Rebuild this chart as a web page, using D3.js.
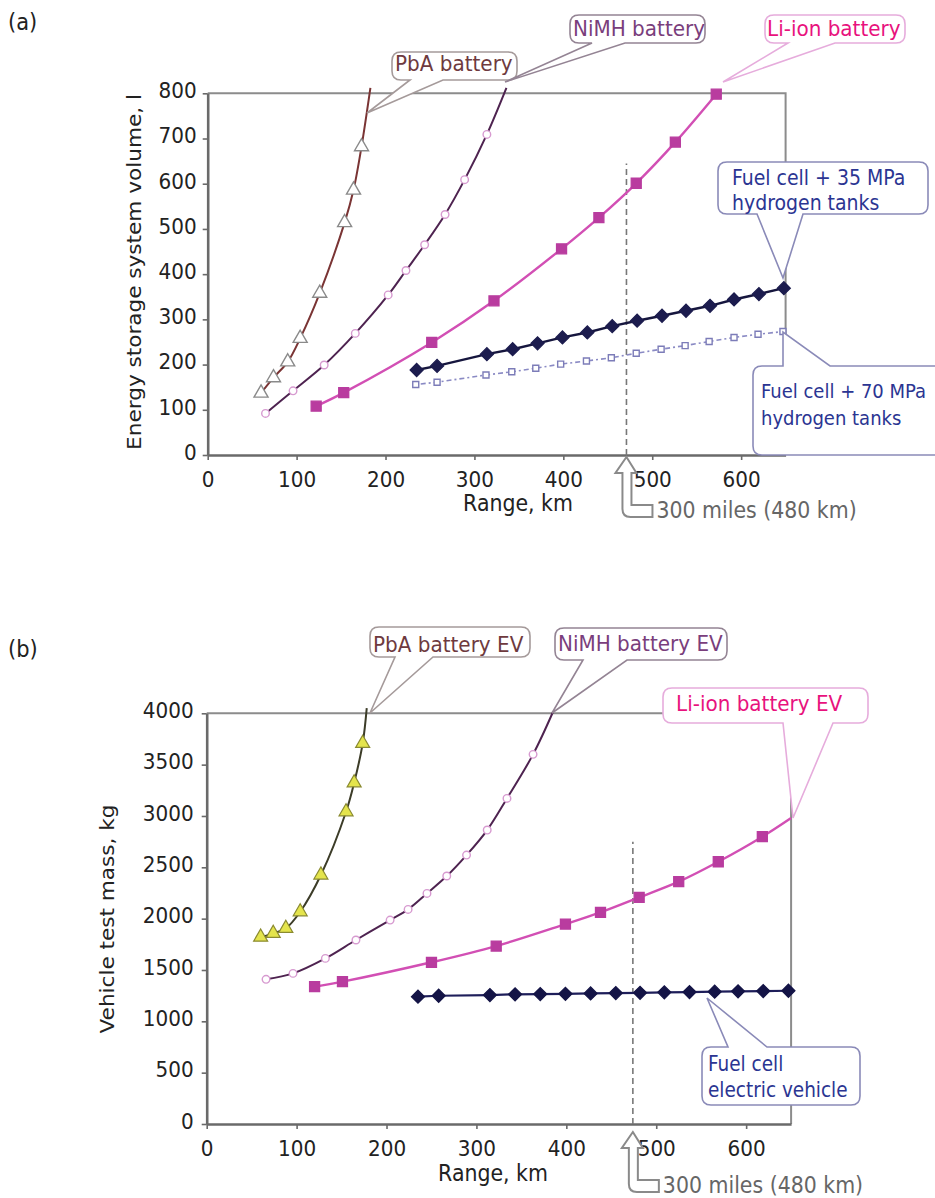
<!DOCTYPE html>
<html><head><meta charset="utf-8">
<script src="https://cdn.jsdelivr.net/npm/d3@7"></script>
<style>body{margin:0;background:#fff}svg{display:block}</style>
</head><body><svg id="c" width="935" height="1198"></svg>
<script>
// ================= DATA =================
// Panel (a): energy storage system volume (l) vs range (km)
const rangeTicks = [0,100,200,300,400,500,600];
const volumeTicks = [0,100,200,300,400,500,600,700,800];
const pbaVol = [[60,137],[74,171],[90,206],[104,258],[126,358],[154,514],[164,586],[173,682]];
const pbaVolEnd = [183,812];
const nimhVol = [[65,92],[96,142],[131,199],[166,269],[203,354],[223,408],[244,465],[267,532],[289,609],[314,709]];
const nimhVolEnd = [336,812];
const liionVol = [[122,108],[153,138],[252,249],[322,341],[398,456],[440,525],[482,601],[526,692],[572,798]];
const fc35Range = [235,258,314,343,371,399,427,455,483,511,538,565,592,620,648];
const fc35Vol   = [188,197,223,234,247,260,271,285,297,308,319,330,344,356,369];
const fc70Range = [234,258,313,342,369,397,426,454,482,510,537,564,592,619,647];
const fc70Vol   = [156,161,177,184,192,201,208,215,225,234,242,251,260,267,273];
// Panel (b): vehicle test mass (kg) vs range (km)
const massTicks = [0,500,1000,1500,2000,2500,3000,3500,4000];
const pbaMass = [[60,1820],[74,1857],[88,1905],[104,2067],[127,2425],[155,3041],[164,3323],[173.5,3707]];
const pbaMassEnd = [178,4050];
const nimhMass = [[66,1409],[96,1467],[132,1613],[166,1792],[204,1986],[224,2090],[245,2246],[267,2415],[289,2619],[312,2863],[334,3171],[363,3600]];
const nimhMassEnd = [385,4010];
const liionMass = [[120,1337],[151,1386],[250,1575],[322,1733],[399,1947],[438,2061],[481,2207],[525,2360],[569,2554],[618,2798]];
const liionMassEnd = [650,2980];
const fcevRange = [235,258,315,343,371,399,427,455,482,509,537,565,591,619,647];
const fcevMass  = [1240,1249,1256,1263,1265,1268,1272,1275,1278,1282,1285,1289,1292,1295,1298];
// 300-mile reference line (km position as drawn, top value)
const refLineA = [471, 645];
const refLineB = [474, 2750];
const refLabel = "300 miles (480 km)";

// ================= HELPERS =================
const svg = d3.select("#c");
const SY = 1.08;
const FONT = "'DejaVu Sans', Verdana, sans-serif";
const FONT2 = "'DejaVu Sans Condensed', 'DejaVu Sans', sans-serif";

function text(g, x, y, str, o = {}) {
  const sy = o.sy || SY;
  return g.append("text")
    .attr("transform", `translate(${x},${y}) scale(1,${sy})`)
    .attr("font-family", o.font || FONT)
    .attr("font-size", o.size || 20)
    .attr("fill", o.color || "#222")
    .attr("text-anchor", o.anchor || "start")
    .text(str);
}
function vtext(g, x, y, str, o = {}) {
  return g.append("text")
    .attr("transform", `translate(${x},${y}) rotate(-90) scale(${SY},1)`)
    .attr("font-family", o.font || FONT)
    .attr("font-size", o.size || 20)
    .attr("fill", o.color || "#222")
    .attr("text-anchor", "middle")
    .text(str);
}
function calloutPath(c) {
  const {x, y, w, h, side, a1, a2, tip} = c, r = 9;
  let p = `M${x+r},${y}`;
  if (side === "top") p += `L${a1},${y}L${tip[0]},${tip[1]}L${a2},${y}`;
  p += `L${x+w-r},${y}Q${x+w},${y} ${x+w},${y+r}L${x+w},${y+h-r}Q${x+w},${y+h} ${x+w-r},${y+h}`;
  if (side === "bottom") p += `L${a2},${y+h}L${tip[0]},${tip[1]}L${a1},${y+h}`;
  p += `L${x+r},${y+h}Q${x},${y+h} ${x},${y+h-r}L${x},${y+r}Q${x},${y} ${x+r},${y}Z`;
  return p;
}
function callout(g, c) {
  g.append("path").attr("d", calloutPath(c))
    .attr("fill", "#fff").attr("stroke", c.stroke).attr("stroke-width", 1.6);
  c.lines.forEach((s, i) => text(g, c.tx, c.ty + i * (c.lh || 26), s,
    {color: c.color, font: c.font, size: c.size, sy: c.lines.length > 1 ? 1 : SY}));
}
function refArrow(g, tx, ty, label) {
  const p = `M${tx},${ty}L${tx+10},${ty+16}L${tx+5},${ty+16}L${tx+5},${ty+48}L${tx+26},${ty+48}` +
            `L${tx+26},${ty+60}L${tx+4},${ty+60}Q${tx-4},${ty+60} ${tx-4},${ty+52}L${tx-4},${ty+16}L${tx-11},${ty+16}Z`;
  g.append("path").attr("d", p).attr("fill", "#fff").attr("stroke", "#8a8a8a").attr("stroke-width", 2);
  text(g, tx + 30, ty + 61, label, {color: "#666", size: 20.5});
}
const tri = d3.symbol().type(d3.symbolTriangle);
const sq = d3.symbol().type(d3.symbolSquare);
const circ = d3.symbol().type(d3.symbolCircle);

function panel(cfg) {
  const g = svg.append("g");
  const x = d3.scaleLinear().domain([0, 650]).range(cfg.xr);
  const y = d3.scaleLinear().domain([0, cfg.ymax]).range(cfg.yr);

  // frame (top + right)
  g.append("path")
    .attr("d", `M${x(0)},${y(cfg.ymax)}L${x(650)},${y(cfg.ymax)}L${x(650)},${y(0)}`)
    .attr("fill", "none").attr("stroke", "#8c8c8c").attr("stroke-width", 2);

  // axes
  const ax = g.append("g").attr("transform", `translate(0,${y(0)})`)
    .call(d3.axisBottom(x).tickValues(rangeTicks).tickFormat(d3.format("d"))
      .tickSize(5).tickSizeOuter(0).tickPadding(10));
  const ay = g.append("g").attr("transform", `translate(${x(0)},0)`)
    .call(d3.axisLeft(y).tickValues(cfg.yticks).tickFormat(d3.format("d"))
      .tickSize(5).tickSizeOuter(0).tickPadding(cfg.ypad));
  [ax, ay].forEach(a => {
    a.select(".domain").attr("stroke", "#6a6a6a").attr("stroke-width", 2.6);
    a.selectAll(".tick line").attr("stroke", "#6a6a6a").attr("stroke-width", 1.6);
    a.selectAll("text").attr("font-family", FONT).attr("font-size", 20).attr("fill", "#222")
      .attr("transform", `scale(1,${SY})`);
  });
  ay.selectAll("text").attr("dy", "0.2em");

  // axis titles
  text(g, cfg.xtitle[0], cfg.xtitle[1], "Range, km", {anchor: "middle", size: 20.5});
  vtext(g, cfg.ytitle[0], cfg.ytitle[1], cfg.ylabel, {size: 20});
  text(g, 8, cfg.tag[1], cfg.tag[0], {size: 21});

  // 300 mile dashed reference
  g.append("line")
    .attr("x1", x(cfg.ref[0])).attr("x2", x(cfg.ref[0]))
    .attr("y1", y(0)).attr("y2", y(cfg.ref[1]))
    .attr("stroke", "#777").attr("stroke-width", 1.6).attr("stroke-dasharray", "6,4");

  const lineGen = (curve) => d3.line().x(d => x(d[0])).y(d => y(d[1])).curve(curve);
  const smooth = d3.curveCatmullRom.alpha(0.5);

  cfg.series.forEach(s => {
    const pts = s.end ? s.data.concat([s.end]) : s.data;
    g.append("path").attr("d", lineGen(s.smooth ? smooth : d3.curveLinear)(pts))
      .attr("fill", "none").attr("stroke", s.line).attr("stroke-width", s.lw || 2)
      .attr("stroke-dasharray", s.dash || null);
    g.selectAll(null).data(s.data).enter().append("path")
      .attr("transform", d => `translate(${x(d[0])},${y(d[1])})` + (s.rot ? " rotate(45)" : ""))
      .attr("d", s.sym)
      .attr("fill", s.fill).attr("stroke", s.mstroke).attr("stroke-width", s.msw || 1.3);
  });

  // reference arrow
  refArrow(g, x(cfg.ref[0]), y(0) + cfg.arrowOff, refLabel);

  cfg.callouts.forEach(c => callout(g, c));
}

// ================= PANEL (a) =================
panel({
  xr: [207.7, 785.6], yr: [455, 93.3], ymax: 800, yticks: volumeTicks, ypad: 6,
  xtitle: [518, 511], ytitle: [141, 272], ylabel: "Energy storage system volume, l",
  tag: ["(a)", 30], ref: refLineA, arrowOff: 2,
  series: [
    {data: pbaVol, end: pbaVolEnd, smooth: true, line: "#7a3434", lw: 2,
     sym: tri.size(85)(), fill: "#fff", mstroke: "#8a8a8a", msw: 1.4},
    {data: nimhVol, end: nimhVolEnd, smooth: true, line: "#4e2350", lw: 2,
     sym: circ.size(45)(), fill: "#fff", mstroke: "#d79ad0", msw: 1.4},
    {data: liionVol, smooth: true, line: "#d24fb4", lw: 2.4,
     sym: sq.size(100)(), fill: "#b93c9f", mstroke: "#b93c9f"},
    {data: fc70Range.map((r, i) => [r, fc70Vol[i]]), line: "#8a8ac4", lw: 1.6, dash: "2,3,5,3",
     sym: sq.size(36)(), fill: "#fff", mstroke: "#7c7cb8", msw: 1.4},
    {data: fc35Range.map((r, i) => [r, fc35Vol[i]]), line: "#16163e", lw: 2.4, rot: true,
     sym: sq.size(84)(), fill: "#1c1c4e", mstroke: "#1c1c4e"}
  ],
  callouts: [
    {x: 392, y: 52, w: 125, h: 28, side: "bottom", a1: 410, a2: 443, tip: [367, 113],
     stroke: "#a59a9a", color: "#6e3a3e", lines: ["PbA battery"], tx: 395, ty: 71},
    {x: 570, y: 15, w: 135, h: 28, side: "bottom", a1: 592, a2: 625, tip: [505, 82],
     stroke: "#948494", color: "#7a3e7c", lines: ["NiMH battery"], tx: 573, ty: 36},
    {x: 765, y: 15, w: 140, h: 28, side: "bottom", a1: 788, a2: 835, tip: [723, 82],
     stroke: "#e6acdc", color: "#e8127d", lines: ["Li-ion battery"], tx: 767, ty: 36},
    {x: 718, y: 162, w: 210, h: 52, side: "bottom", a1: 757, a2: 803, tip: [783, 278],
     stroke: "#8a8ab8", color: "#2b3592", font: FONT2, size: 21, lh: 25,
     lines: ["Fuel cell + 35 MPa", "hydrogen tanks"], tx: 732, ty: 185},
    {x: 753, y: 366, w: 195, h: 89, side: "top", a1: 783, a2: 830, tip: [783, 332],
     stroke: "#8a8ab8", color: "#2b3592", font: FONT2, size: 20, lh: 27,
     lines: ["Fuel cell + 70 MPa", "hydrogen tanks"], tx: 761, ty: 398}
  ]
});

// ================= PANEL (b) =================
panel({
  xr: [206.7, 791.1], yr: [1124, 713.3], ymax: 4000, yticks: massTicks, ypad: 8,
  xtitle: [493, 1181], ytitle: [114, 919], ylabel: "Vehicle test mass, kg",
  tag: ["(b)", 657], ref: refLineB, arrowOff: 8,
  series: [
    {data: pbaMass, end: pbaMassEnd, smooth: true, line: "#3c3c28", lw: 2,
     sym: tri.size(85)(), fill: "#e4e44c", mstroke: "#8a8a30", msw: 1.2},
    {data: nimhMass, end: nimhMassEnd, smooth: true, line: "#4e2350", lw: 2,
     sym: circ.size(45)(), fill: "#fff", mstroke: "#d79ad0", msw: 1.4},
    {data: liionMass, end: liionMassEnd, smooth: true, line: "#d24fb4", lw: 2.4,
     sym: sq.size(100)(), fill: "#b93c9f", mstroke: "#b93c9f"},
    {data: fcevRange.map((r, i) => [r, fcevMass[i]]), line: "#1e1e5a", lw: 2.2, rot: true,
     sym: sq.size(84)(), fill: "#141446", mstroke: "#141446"}
  ],
  callouts: [
    {x: 370, y: 627, w: 160, h: 30, side: "bottom", a1: 395, a2: 433, tip: [370, 713],
     stroke: "#a59a9a", color: "#6e3a3e", lines: ["PbA battery EV"], tx: 373, ty: 652},
    {x: 555, y: 628, w: 172, h: 32, side: "bottom", a1: 583, a2: 627, tip: [552, 713],
     stroke: "#948494", color: "#7a3e7c", lines: ["NiMH battery EV"], tx: 558, ty: 651},
    {x: 663, y: 688, w: 205, h: 35, side: "bottom", a1: 783, a2: 833, tip: [793, 818],
     stroke: "#e6acdc", color: "#e8127d", lines: ["Li-ion battery EV"], tx: 676, ty: 711},
    {x: 702, y: 1047, w: 158, h: 58, side: "top", a1: 728, a2: 767, tip: [707, 998],
     stroke: "#8a8ab8", color: "#2b3592", font: FONT2, size: 20.5, lh: 26,
     lines: ["Fuel cell", "electric vehicle"], tx: 708, ty: 1071}
  ]
});
</script></body></html>
